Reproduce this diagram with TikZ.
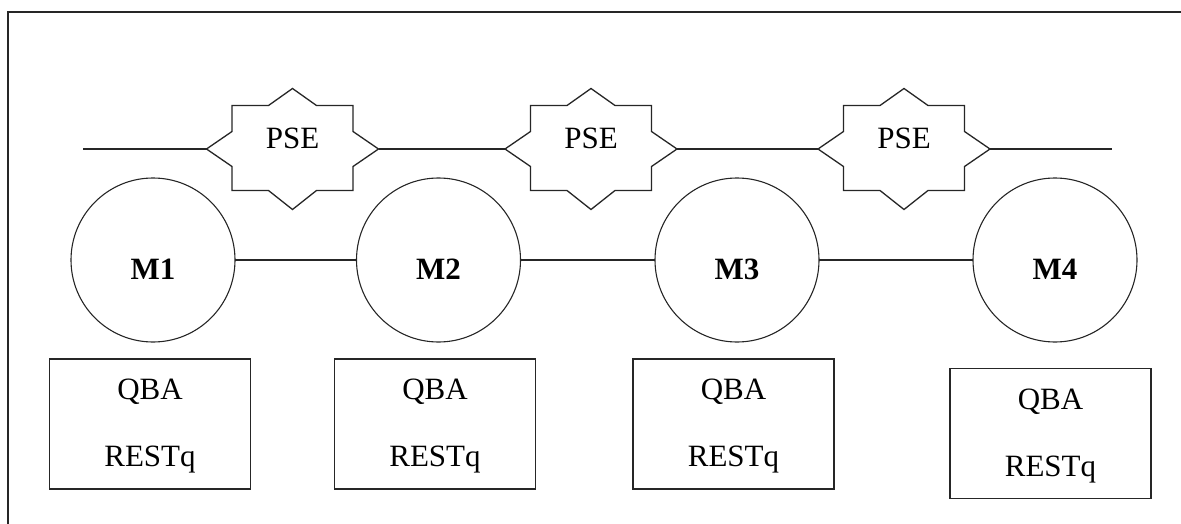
\documentclass[tikz,border=0pt]{standalone}
\usepackage{fontspec}
\setmainfont{Liberation Serif}
\usetikzlibrary{calc}
\begin{document}
\begin{tikzpicture}[x=1pt,y=-1pt,
  every node/.style={inner sep=0pt,outer sep=0pt},
  ln/.style={line width=1.3pt,black!85},
  mcirc/.style={draw,line width=1.1pt,black!85,circle,minimum size=164pt,font=\fontsize{31}{37}\selectfont\bfseries},
  qbox/.style={draw,line width=1.3pt,black!85,rectangle,minimum width=201pt,minimum height=130pt},
  lbl/.style={anchor=base,font=\fontsize{31}{37}\selectfont},
  pse/.style={ln,fill=white}
]
\useasboundingbox (0,0) rectangle (1181,524);
% frame (top and left visible)
\draw[ln] (8,524) -- (8,12) -- (1181,12);

% PSE stars
\foreach \i/\cx in {1/292.5,2/591,3/904}{
  \coordinate (p\i) at (\cx,149);
  \coordinate (p\i l) at (\cx-86,149);
  \coordinate (p\i r) at (\cx+86,149);
}
\coordinate (lstart) at (83,149);
\coordinate (lend) at (1112,149);
\draw[ln] (lstart) -- (p1l);
\draw[ln] (p1r) -- (p2l);
\draw[ln] (p2r) -- (p3l);
\draw[ln] (p3r) -- (lend);
\foreach \i in {1,2,3}{
  \draw[pse] ($(p\i)+(0,-60.5)$) -- ++(24,17) -- ++(36.5,0) -- ++(0,26) -- ($(p\i r)$)
    -- ($(p\i)+(60.5,17.5)$) -- ++(0,24) -- ++(-36.5,0) -- ($(p\i)+(0,60.5)$)
    -- ($(p\i)+(-24,41.5)$) -- ++(-36.5,0) -- ++(0,-24) -- ($(p\i l)$)
    -- ($(p\i)+(-60.5,-17.5)$) -- ++(0,-26) -- ++(36.5,0) -- cycle;
  \node[lbl] (pt\i) at (p\i) {PSE};
}

% M circles
\node[mcirc] (m1) at (153,260) {};
\node[mcirc] (m2) at (438.5,260) {};
\node[mcirc] (m3) at (737,260) {};
\node[mcirc] (m4) at (1055,260) {};
\foreach \i/\cx in {1/153,2/438.5,3/737,4/1055}{
  \node[anchor=base,font=\fontsize{31}{37}\selectfont\bfseries] (mt\i) at (\cx,279) {M\i};
}
\draw[ln] (m1) -- (m2);
\draw[ln] (m2) -- (m3);
\draw[ln] (m3) -- (m4);

% QBA boxes
\node[qbox] (q1) at (150,424) {};
\node[qbox] (q2) at (435,424) {};
\node[qbox] (q3) at (733.5,424) {};
\node[qbox] (q4) at (1050.5,433.5) {};
\foreach \i/\cx/\dy in {1/150/0,2/435/0,3/733.5/0,4/1050.5/9.5}{
  \node[lbl] (qa\i) at (\cx,399.5+\dy) {QBA};
  \node[lbl] (qr\i) at (\cx,466.5+\dy) {RESTq};
}
\end{tikzpicture}
\end{document}
